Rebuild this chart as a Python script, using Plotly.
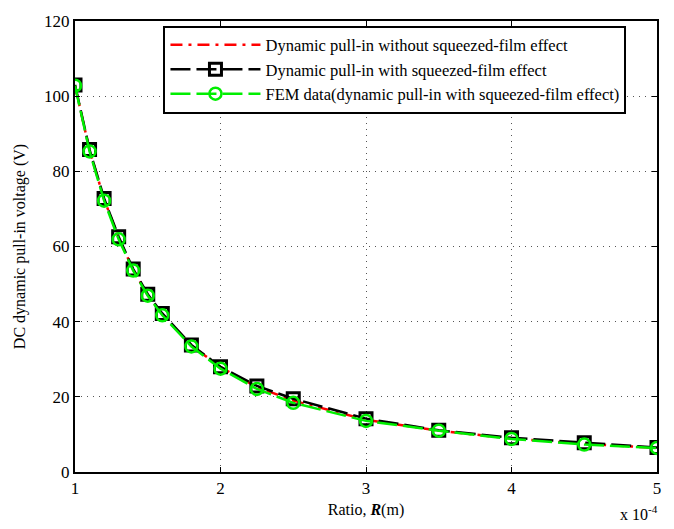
import plotly.graph_objects as go

# Ratio R in units of 1e-4 m
ratio = [1.0, 1.1, 1.2, 1.3, 1.4, 1.5, 1.6, 1.8, 2.0, 2.25, 2.5, 3.0, 3.5, 4.0, 4.5, 5.0]
v_no_squeeze = [102.8, 85.6, 72.6, 62.3, 53.8, 47.1, 42.0, 33.6, 27.9, 22.6, 19.0, 13.9, 11.0, 8.9, 7.5, 6.4]
v_squeeze = [103.0, 85.8, 72.8, 62.6, 54.0, 47.3, 42.2, 33.8, 28.0, 22.9, 19.5, 14.2, 11.1, 9.1, 7.8, 6.5]
v_fem = [102.8, 85.3, 72.2, 61.9, 53.6, 46.9, 41.7, 33.4, 27.5, 22.1, 18.4, 13.6, 11.0, 8.8, 7.3, 6.4]

names = ["Dynamic pull-in without squeezed-film effect",
         "Dynamic pull-in with squeezed-film effect",
         "FEM data(dynamic pull-in with squeezed-film effect)"]
x_ticks = [1, 2, 3, 4, 5]
y_ticks = [0, 20, 40, 60, 80, 100, 120]

FONT = "Times New Roman, Liberation Serif, DejaVu Serif, serif"

fig = go.Figure()
fig.add_trace(go.Scatter(x=ratio, y=v_no_squeeze, name=names[0], mode="lines",
                         line=dict(color="#ff0000", width=2.5, dash="12px,6px,3px,6px")))
fig.add_trace(go.Scatter(x=ratio, y=v_squeeze, name=names[1], mode="lines+markers",
                         line=dict(color="black", width=2.5, dash="20px,6px"),
                         marker=dict(symbol="square-open", size=12, color="black",
                                     line=dict(width=3, color="black"))))
fig.add_trace(go.Scatter(x=ratio, y=v_fem, name=names[2], mode="lines+markers",
                         line=dict(color="#00ee00", width=2.5, dash="20px,6px"),
                         marker=dict(symbol="circle-open", size=12, color="#00ee00",
                                     line=dict(width=2.5, color="#00ee00"))))

axis_common = dict(showline=True, linecolor="black", linewidth=2, mirror="allticks",
                   ticks="inside", ticklen=5, tickcolor="black", tickwidth=1,
                   showgrid=True, gridcolor="#555555", griddash="1px,5px", gridwidth=1,
                   zeroline=False, tickfont=dict(family=FONT, size=17, color="black"))

fig.update_xaxes(range=[1, 5], tickvals=x_ticks, ticktext=[str(t) for t in x_ticks],
                 title=dict(text="Ratio, <b><i>R</i></b>(m)", font=dict(family=FONT, size=16, color="black"),
                            standoff=6),
                 **axis_common)
fig.update_yaxes(range=[0, 120], tickvals=y_ticks,
                 title=dict(text="DC dynamic pull-in voltage (V)", font=dict(family=FONT, size=16, color="black"),
                            standoff=14),
                 **axis_common)

fig.add_annotation(text="x 10<sup>-4</sup>", xref="paper", yref="paper", x=1.005, y=-0.092,
                   xanchor="right", yanchor="middle", showarrow=False,
                   font=dict(family=FONT, size=16, color="black"))

fig.update_layout(
    width=674, height=529,
    margin=dict(l=75, r=17, t=13, b=57),
    paper_bgcolor="white", plot_bgcolor="white",
    font=dict(family=FONT, color="black"),
    legend=dict(x=0.152, y=0.99, xanchor="left", yanchor="top",
                bgcolor="white", bordercolor="black", borderwidth=2,
                font=dict(family=FONT, size=16.5, color="black"),
                itemwidth=90, tracegroupgap=0),
)

fig.write_html("out.html")
